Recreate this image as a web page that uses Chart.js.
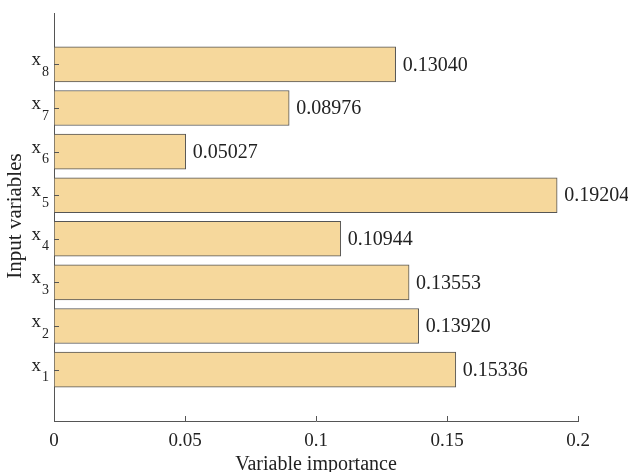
<!DOCTYPE html>
<html>
<head>
<meta charset="utf-8">
<script src="https://cdn.jsdelivr.net/npm/chart.js@4"></script>
<style>
  html, body { margin: 0; padding: 0; background: #fff; }
  #wrap { width: 628px; height: 472px; }
</style>
</head>
<body>
<div id="wrap"><canvas id="chart" width="628" height="472"></canvas></div>
<script>
const varNames = ['1', '2', '3', '4', '5', '6', '7', '8'];
const importance = [0.15336, 0.13920, 0.13553, 0.10944, 0.19204, 0.05027, 0.08976, 0.13040];
const xTicks = [0, 0.05, 0.1, 0.15, 0.2];
const xTickLabels = ['0', '0.05', '0.1', '0.15', '0.2'];
const xTitle = 'Variable importance';
const yTitle = 'Input variables';

const serif = '"Liberation Serif", "Times New Roman", serif';

// draws x with a subscript, inward tick marks, titles and the value labels
const annotate = {
    id: 'annotate',
    afterDraw(chart) {
        const ctx = chart.ctx;
        const xs = chart.scales.x;
        const ys = chart.scales.y;
        const area = chart.chartArea;
        ctx.save();
        ctx.strokeStyle = '#555';
        ctx.lineWidth = 1;
        ctx.beginPath();
        xTicks.forEach(t => {
            const px = Math.round(xs.getPixelForValue(t)) + 0.5;
            ctx.moveTo(px, area.bottom);
            ctx.lineTo(px, area.bottom - 5);
        });
        varNames.forEach((n, i) => {
            const py = Math.round(ys.getPixelForValue(i + 1)) + 0.5;
            ctx.moveTo(area.left, py);
            ctx.lineTo(area.left + 5, py);
        });
        ctx.stroke();

        ctx.fillStyle = '#222';
        ctx.textBaseline = 'middle';
        varNames.forEach((n, i) => {
            const py = ys.getPixelForValue(i + 1);
            ctx.font = '19px ' + serif;
            ctx.textAlign = 'right';
            ctx.fillText('x', area.left - 13, py - 4);
            ctx.font = '14px ' + serif;
            ctx.textAlign = 'left';
            ctx.fillText(n, area.left - 12, py + 8);
        });

        ctx.font = '20px ' + serif;
        ctx.textAlign = 'left';
        importance.forEach((v, i) => {
            const px = xs.getPixelForValue(v);
            const py = ys.getPixelForValue(i + 1);
            ctx.fillText(v.toFixed(5), px + 7, py + 1);
        });

        ctx.textAlign = 'center';
        ctx.font = '20px ' + serif;
        ctx.fillText(xTitle, (area.left + area.right) / 2, 465);
        ctx.translate(15, 216);
        ctx.rotate(-Math.PI / 2);
        ctx.font = '21px ' + serif;
        ctx.fillText(yTitle, 0, 0);
        ctx.restore();
    }
};

new Chart(document.getElementById('chart'), {
    type: 'bar',
    data: {
        datasets: [{
            data: importance.map((v, i) => ({ x: v, y: i + 1 })),
            backgroundColor: '#F6D89C',
            borderColor: '#555',
            borderWidth: 1,
            borderSkipped: false,
            barThickness: 35
        }]
    },
    options: {
        indexAxis: 'y',
        responsive: false,
        animation: false,
        layout: { padding: { top: 13, right: 50, left: 0, bottom: 0 } },
        plugins: {
            legend: { display: false },
            tooltip: { enabled: false }
        },
        scales: {
            x: {
                type: 'linear',
                min: 0,
                max: 0.2,
                afterBuildTicks: axis => { axis.ticks = xTicks.map(v => ({ value: v })); },
                afterFit: axis => { axis.height = 51; },
                grid: { display: false },
                border: { display: true, color: '#555', width: 1 },
                ticks: {
                    color: '#222',
                    padding: 1,
                    font: { family: serif, size: 19 },
                    callback: (v, i) => xTickLabels[i]
                }
            },
            y: {
                type: 'linear',
                offset: false,
                min: -0.18,
                max: 9.18,
                afterBuildTicks: axis => { axis.ticks = varNames.map((n, i) => ({ value: i + 1 })); },
                afterFit: axis => { axis.width = 54; },
                grid: { display: false },
                border: { display: true, color: '#555', width: 1 },
                ticks: { display: true, color: 'rgba(0,0,0,0)', callback: () => '' }
            }
        }
    },
    plugins: [annotate]
});
</script>
</body>
</html>
